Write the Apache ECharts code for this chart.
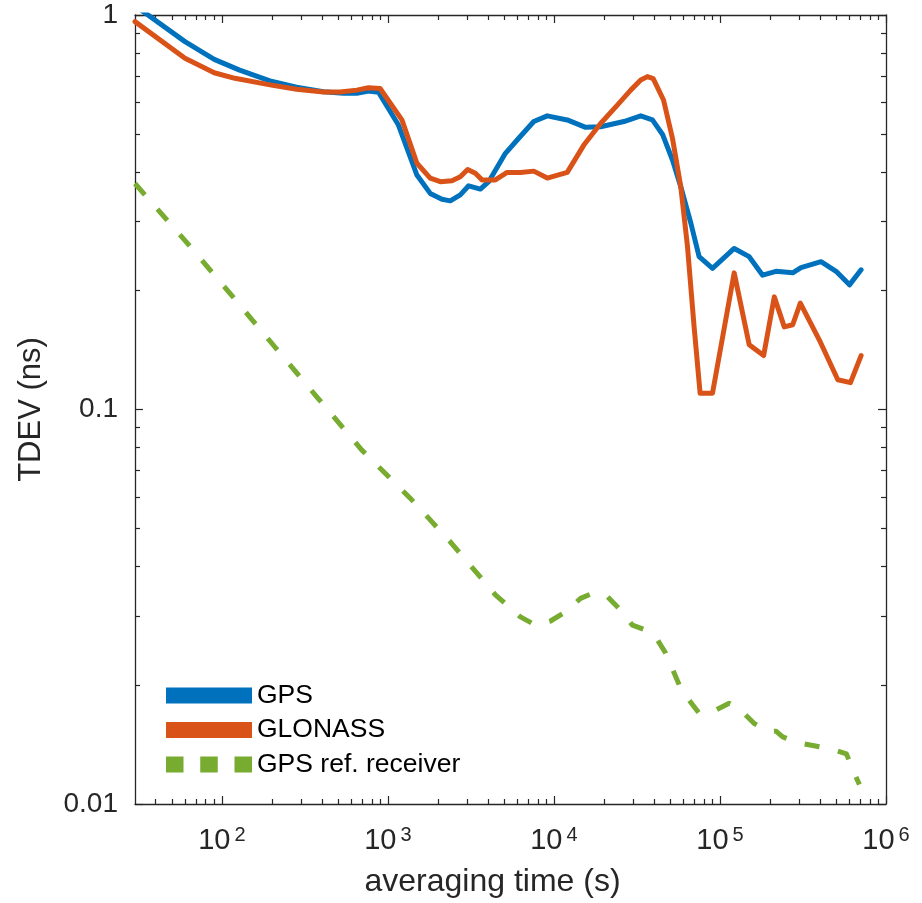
<!DOCTYPE html>
<html><head><meta charset="utf-8">
<script src="https://cdn.jsdelivr.net/npm/echarts@6/dist/echarts.min.js"></script>
<style>html,body{margin:0;padding:0;background:#fff}#c{width:922px;height:903px}</style>
</head><body><div id="c"></div>
<script>
const seriesNames = ['GPS', 'GLONASS', 'GPS ref. receiver'];

const gpsTau = [30, 60, 90, 128, 195, 282, 409, 540, 650, 764, 878, 1158, 1496, 1799, 2117, 2377, 2731, 3065, 3605, 4048, 5103, 6138, 7564, 9122, 12030, 15520, 19110, 26400, 33340, 39200, 45240, 51760, 58080, 66750, 74900, 90200, 121800, 150000, 180700, 217500, 274200, 307700, 406000, 500500, 602600, 708000];
const gpsTdev = [1.056, 0.856, 0.772, 0.725, 0.681, 0.656, 0.639, 0.633, 0.633, 0.642, 0.637, 0.526, 0.393, 0.353, 0.341, 0.338, 0.350, 0.369, 0.362, 0.378, 0.446, 0.487, 0.537, 0.555, 0.542, 0.519, 0.521, 0.537, 0.555, 0.542, 0.497, 0.429, 0.367, 0.297, 0.244, 0.228, 0.256, 0.244, 0.219, 0.224, 0.222, 0.229, 0.237, 0.224, 0.207, 0.226];

const glonassTau = [30, 60, 90, 120, 195, 282, 409, 515, 650, 764, 898, 1215, 1496, 1799, 2069, 2432, 2731, 3023, 3365, 3690, 4441, 5224, 6286, 7564, 9122, 12030, 15140, 19110, 24100, 29000, 33340, 36560, 39630, 45730, 51760, 58080, 63750, 69880, 75950, 90200, 121800, 150000, 183300, 212400, 244000, 274200, 304800, 397000, 512600, 611000, 708000];
const glonassTdev = [0.962, 0.777, 0.714, 0.691, 0.665, 0.648, 0.638, 0.638, 0.645, 0.654, 0.651, 0.542, 0.421, 0.386, 0.378, 0.380, 0.389, 0.406, 0.397, 0.382, 0.382, 0.399, 0.399, 0.402, 0.386, 0.399, 0.468, 0.531, 0.591, 0.645, 0.684, 0.698, 0.690, 0.609, 0.487, 0.367, 0.259, 0.162, 0.110, 0.110, 0.222, 0.146, 0.137, 0.193, 0.162, 0.164, 0.186, 0.150, 0.119, 0.117, 0.137];

const refTau = [30, 61, 112, 204, 373, 697, 1363, 2377, 4441, 6286, 7744, 9539, 11750, 14470, 17330, 21060, 25230, 29700, 35710, 41020, 47150, 57540, 66100, 74900, 94400, 113600, 136900, 160900, 198200, 217500, 238700, 293900, 467000, 578000, 631500, 691800];
const refTdev = [0.374, 0.266, 0.197, 0.1457, 0.1077, 0.0789, 0.0596, 0.0462, 0.0339, 0.0298, 0.0284, 0.0291, 0.0307, 0.0332, 0.0343, 0.0335, 0.0310, 0.0284, 0.0276, 0.0265, 0.0241, 0.0198, 0.0182, 0.0170, 0.0173, 0.0180, 0.0171, 0.0160, 0.01525, 0.0153, 0.0148, 0.0143, 0.0138, 0.0134, 0.0122, 0.0112];

const xMajorTicks = [100, 1000, 10000, 100000, 1000000];
const xTickExponents = ['2', '3', '4', '5', '6'];
const xMinorTicks = [40, 50, 60, 70, 80, 90,
  200, 300, 400, 500, 600, 700, 800, 900,
  2000, 3000, 4000, 5000, 6000, 7000, 8000, 9000,
  20000, 30000, 40000, 50000, 60000, 70000, 80000, 90000,
  200000, 300000, 400000, 500000, 600000, 700000, 800000, 900000];
const yMajorTicks = [0.01, 0.1, 1];
const yTickLabels = ['0.01', '0.1', '1'];
const yMinorTicks = [0.02, 0.03, 0.04, 0.05, 0.06, 0.07, 0.08, 0.09,
  0.2, 0.3, 0.4, 0.5, 0.6, 0.7, 0.8, 0.9];

const FONT = '"Liberation Sans", Arial, Helvetica, sans-serif';
const AX = '#262626';
const COLORS = ['#0072BD', '#D95319', '#77AC30'];

function pairs(xs, ys) { return xs.map((x, i) => [x, ys[i]]); }
function nearestIdx(arr, v) {
  let best = 0, bd = Infinity;
  arr.forEach((a, i) => { const d = Math.abs(Math.log10(a) - Math.log10(v)); if (d < bd) { bd = d; best = i; } });
  return best;
}

function xAxisDef(pos, ticks, len, withLine, withLabel) {
  const ax = {
    type: 'log', logBase: 10, gridIndex: 0, position: pos, min: 30, max: 1000000,
    axisLine: { show: withLine, onZero: false, lineStyle: { color: AX, width: 1.3 } },
    axisTick: { show: true, inside: true, length: len, customValues: ticks, lineStyle: { color: AX, width: 1.2 } },
    axisLabel: { show: false },
    splitLine: { show: false }, minorTick: { show: false }, minorSplitLine: { show: false }
  };
  if (withLabel) {
    ax.axisLabel = {
      show: true, customValues: xMajorTicks, margin: 21,
      fontFamily: FONT, fontSize: 29, color: AX,
      formatter: function (v) { return '{b|10}{s|' + xTickExponents[nearestIdx(xMajorTicks, v)] + '}'; },
      rich: {
        b: { fontFamily: FONT, fontSize: 29, color: AX, lineHeight: 32 },
        s: { fontFamily: FONT, fontSize: 20, color: AX, lineHeight: 20, verticalAlign: 'top', padding: [0, 0, 0, 4] }
      }
    };
    ax.name = 'averaging time (s)';
    ax.nameLocation = 'middle';
    ax.nameGap = 62;
    ax.nameTextStyle = { fontFamily: FONT, fontSize: 32, color: AX, lineHeight: 32, padding: [0, 36, 0, 0] };
  }
  return ax;
}
function yAxisDef(pos, ticks, len, withLine, withLabel) {
  const ax = {
    type: 'log', logBase: 10, gridIndex: 0, position: pos, min: 0.01, max: 1,
    axisLine: { show: withLine, onZero: false, lineStyle: { color: AX, width: 1.3 } },
    axisTick: { show: true, inside: true, length: len, customValues: ticks, lineStyle: { color: AX, width: 1.2 } },
    axisLabel: { show: false },
    splitLine: { show: false }, minorTick: { show: false }, minorSplitLine: { show: false }
  };
  if (withLabel) {
    ax.axisLabel = {
      show: true, customValues: yMajorTicks, margin: 17,
      fontFamily: FONT, fontSize: 28, color: AX,
      formatter: function (v) { return yTickLabels[nearestIdx(yMajorTicks, v)]; }
    };
    ax.name = 'TDEV (ns)';
    ax.nameLocation = 'middle';
    ax.nameGap = 88;
    ax.nameTextStyle = { fontFamily: FONT, fontSize: 31, color: AX, lineHeight: 31 };
  }
  return ax;
}

const chart = echarts.init(document.getElementById('c'), null, { renderer: 'canvas' });
chart.setOption({
  animation: false,
  backgroundColor: '#fff',
  grid: { left: 135, right: 36, top: 15, bottom: 99, containLabel: false },
  xAxis: [
    xAxisDef('bottom', xMajorTicks, 8, true, true),
    xAxisDef('bottom', xMinorTicks, 5, false, false),
    xAxisDef('top', xMajorTicks, 8, true, false),
    xAxisDef('top', xMinorTicks, 5, false, false)
  ],
  yAxis: [
    yAxisDef('left', yMajorTicks, 8, true, true),
    yAxisDef('left', yMinorTicks, 5, false, false),
    yAxisDef('right', yMajorTicks, 8, true, false),
    yAxisDef('right', yMinorTicks, 5, false, false)
  ],
  legend: {
    orient: 'vertical', left: 166, top: 682, padding: 0,
    itemWidth: 86, itemHeight: 16, itemGap: 7.5,
    selectedMode: false,
    textStyle: { fontFamily: FONT, fontSize: 26.5, color: '#000', lineHeight: 26 },
    itemStyle: { borderWidth: 0 },
    data: [
      { name: seriesNames[0], icon: 'rect' },
      { name: seriesNames[1], icon: 'rect' },
      { name: seriesNames[2], icon: 'path://M0,0h17.5v16h-17.5z M34.25,0h17.5v16h-17.5z M68.5,0h17.5v16h-17.5z' }
    ]
  },
  series: [
    {
      name: seriesNames[0], type: 'line', xAxisIndex: 0, yAxisIndex: 0,
      data: pairs(gpsTau, gpsTdev), showSymbol: false, symbol: 'none', clip: true,
      itemStyle: { color: COLORS[0] },
      lineStyle: { color: COLORS[0], width: 5, join: 'round', cap: 'round' }
    },
    {
      name: seriesNames[1], type: 'line', xAxisIndex: 0, yAxisIndex: 0,
      data: pairs(glonassTau, glonassTdev), showSymbol: false, symbol: 'none', clip: true,
      itemStyle: { color: COLORS[1] },
      lineStyle: { color: COLORS[1], width: 5, join: 'round', cap: 'round' }
    },
    {
      name: seriesNames[2], type: 'line', xAxisIndex: 0, yAxisIndex: 0,
      data: pairs(refTau, refTdev), showSymbol: false, symbol: 'none', clip: true,
      itemStyle: { color: COLORS[2] },
      lineStyle: { color: COLORS[2], width: 5, type: [15, 19], cap: 'butt', join: 'round' }
    }
  ]
});
</script>
</body></html>
